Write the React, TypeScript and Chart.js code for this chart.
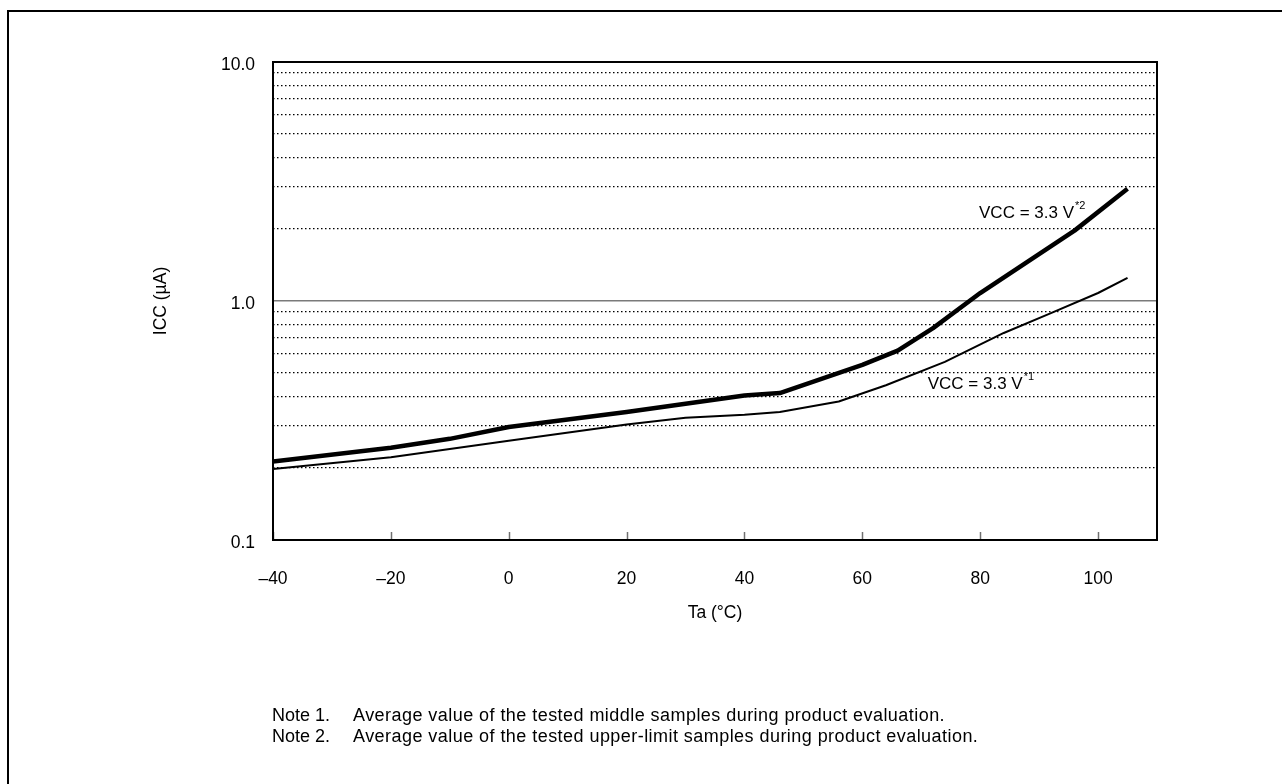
import React, { useEffect, useRef } from 'react';
import { Chart, registerables } from 'chart.js';

Chart.register(...registerables);

// ---- data ----
const TEMP_MIDDLE = [-40, -20, 0, 20, 30, 40, 46, 56, 64, 74, 84, 92, 100, 105];
const ICC_MIDDLE = [0.198, 0.222, 0.26, 0.304, 0.325, 0.334, 0.343, 0.38, 0.444, 0.556, 0.735, 0.89, 1.08, 1.25];

const TEMP_UPPER = [-40, -20, -10, 0, 20, 40, 46, 60, 66, 72, 80, 96, 105];
const ICC_UPPER = [0.213, 0.243, 0.265, 0.297, 0.343, 0.402, 0.412, 0.54, 0.62, 0.77, 1.08, 1.97, 2.95];

const X_TICKS = [-40, -20, 0, 20, 40, 60, 80, 100];
const X_TICK_LABELS = ['–40', '–20', '0', '20', '40', '60', '80', '100'];

const Y_TICKS = [0.1, 0.2, 0.3, 0.4, 0.5, 0.6, 0.7, 0.8, 0.9, 1, 2, 3, 4, 5, 6, 7, 8, 9, 10];
const Y_LABELED = [0.1, 1, 10];
const Y_TICK_LABELS = ['0.1', '1.0', '10.0'];

const SERIES_NAMES = ['VCC = 3.3 V', 'VCC = 3.3 V'];
const SERIES_SUPS = ['*1', '*2'];

const X_TITLE = 'Ta (°C)';
const Y_TITLE = 'ICC (µA)';

const NOTE_HEADS = ['Note 1.', 'Note 2.'];
const NOTE_TEXTS = [
  'Average value of the tested middle samples during product evaluation.',
  'Average value of the tested upper-limit samples during product evaluation.',
];

// label anchors (data coordinates) for the in-plot series labels
const LABEL_ANCHORS = [
  { x: 71.1, y: 0.45 },
  { x: 79.8, y: 2.33 },
];

const FONT = "'Liberation Sans', Arial, Helvetica, sans-serif";

const overlayPlugin = {
  id: 'overlay',
  afterDatasetsDraw(chart: any) {
    const { ctx, chartArea: a, scales } = chart;
    const xs = scales.x;
    const ys = scales.y;
    ctx.save();
    // inward tick marks on the bottom axis
    ctx.strokeStyle = '#707070';
    ctx.lineWidth = 1.5;
    X_TICKS.forEach((v) => {
      const px = Math.round(xs.getPixelForValue(v)) + 0.5;
      ctx.beginPath();
      ctx.moveTo(px, a.bottom);
      ctx.lineTo(px, a.bottom - 8);
      ctx.stroke();
    });
    // plot frame
    ctx.strokeStyle = '#000';
    ctx.lineWidth = 2;
    ctx.strokeRect(a.left, a.top, a.right - a.left, a.bottom - a.top);
    // series labels
    ctx.fillStyle = '#000';
    ctx.textBaseline = 'middle';
    ctx.textAlign = 'left';
    LABEL_ANCHORS.forEach((p, i) => {
      const px = xs.getPixelForValue(p.x);
      const py = ys.getPixelForValue(p.y);
      ctx.font = `17px ${FONT}`;
      ctx.fillText(SERIES_NAMES[i], px, py);
      const w = ctx.measureText(SERIES_NAMES[i]).width;
      ctx.font = `11px ${FONT}`;
      ctx.fillText(SERIES_SUPS[i], px + w + 1, py - 7);
    });
    ctx.restore();
  },
};

export default function App() {
  const canvasRef = useRef<HTMLCanvasElement | null>(null);

  useEffect(() => {
    const canvas = canvasRef.current;
    if (!canvas) return;
    const chart = new Chart(canvas, {
      type: 'line',
      data: {
        datasets: [
          {
            label: SERIES_NAMES[0] + SERIES_SUPS[0],
            data: TEMP_MIDDLE.map((t, i) => ({ x: t, y: ICC_MIDDLE[i] })),
            borderColor: '#000',
            backgroundColor: '#000',
            borderWidth: 2,
            pointRadius: 0,
            tension: 0,
            fill: false,
            borderJoinStyle: 'round',
          },
          {
            label: SERIES_NAMES[1] + SERIES_SUPS[1],
            data: TEMP_UPPER.map((t, i) => ({ x: t, y: ICC_UPPER[i] })),
            borderColor: '#000',
            backgroundColor: '#000',
            borderWidth: 4.5,
            pointRadius: 0,
            tension: 0,
            fill: false,
            borderJoinStyle: 'round',
          },
        ],
      },
      options: {
        animation: false,
        responsive: false,
        events: [],
        layout: { padding: { left: 143, right: 125, top: 62, bottom: 154 } },
        plugins: {
          legend: { display: false },
          tooltip: { enabled: false },
        },
        scales: {
          x: {
            type: 'linear',
            min: -40,
            max: 110,
            afterBuildTicks: (s: any) => {
              s.ticks = X_TICKS.map((v) => ({ value: v }));
            },
            afterFit: (s: any) => {
              s.height = 90;
            },
            grid: { display: false },
            border: { display: false },
            ticks: {
              padding: 21,
              color: '#000',
              maxRotation: 0,
              autoSkip: false,
              font: { family: FONT, size: 17.5 },
              callback: (v: any) => {
                const i = X_TICKS.indexOf(Number(v));
                return i >= 0 ? X_TICK_LABELS[i] : '';
              },
            },
            title: {
              display: true,
              text: X_TITLE,
              color: '#000',
              font: { family: FONT, size: 17.5 },
              padding: { top: 0, bottom: 6.5 },
            },
          },
          y: {
            type: 'logarithmic',
            min: 0.1,
            max: 10,
            afterBuildTicks: (s: any) => {
              s.ticks = Y_TICKS.map((v) => ({ value: v }));
            },
            afterFit: (s: any) => {
              s.width = 130;
            },
            grid: {
              drawTicks: false,
              color: (c: any) => (c.tick && c.tick.value === 1 ? '#7a7a7a' : '#000'),
              lineWidth: (c: any) => (c.tick && c.tick.value === 1 ? 1.6 : 1.2),
            },
            border: {
              display: false,
              dash: (c: any) => (c.tick && c.tick.value === 1 ? [] : [1.5, 2.5]),
            },
            ticks: {
              padding: 18,
              labelOffset: 3,
              color: '#000',
              autoSkip: false,
              font: { family: FONT, size: 17.5 },
              callback: (v: any) => {
                const i = Y_LABELED.findIndex((l) => Math.abs(l - Number(v)) < 1e-9);
                return i >= 0 ? Y_TICK_LABELS[i] : '';
              },
            },
            title: {
              display: true,
              text: Y_TITLE,
              color: '#000',
              font: { family: FONT, size: 17.5 },
              padding: { top: 7.5, bottom: 0 },
            },
          },
        },
      },
      plugins: [overlayPlugin],
    } as any);
    return () => chart.destroy();
  }, []);

  return (
    <div
      style={{
        position: 'absolute',
        left: 0,
        top: 0,
        width: 1282,
        height: 784,
        overflow: 'hidden',
        background: '#fff',
      }}
    >
      <div
        style={{
          position: 'absolute',
          left: 7,
          top: 10,
          right: -20,
          bottom: -20,
          borderLeft: '2px solid #000',
          borderTop: '2px solid #000',
        }}
      />
      <canvas
        ref={canvasRef}
        width={1282}
        height={784}
        style={{ position: 'absolute', left: 0, top: 0, width: 1282, height: 784 }}
      />
      <div
        style={{
          position: 'absolute',
          left: 272,
          top: 705,
          fontFamily: FONT,
          fontSize: 18,
          lineHeight: '21px',
          color: '#000',
          whiteSpace: 'nowrap',
        }}
      >
        {NOTE_HEADS.map((h, i) => (
          <div key={i}>
            <span style={{ display: 'inline-block', width: 81 }}>{h}</span>
            <span style={{ letterSpacing: '0.45px' }}>{NOTE_TEXTS[i]}</span>
          </div>
        ))}
      </div>
    </div>
  );
}
